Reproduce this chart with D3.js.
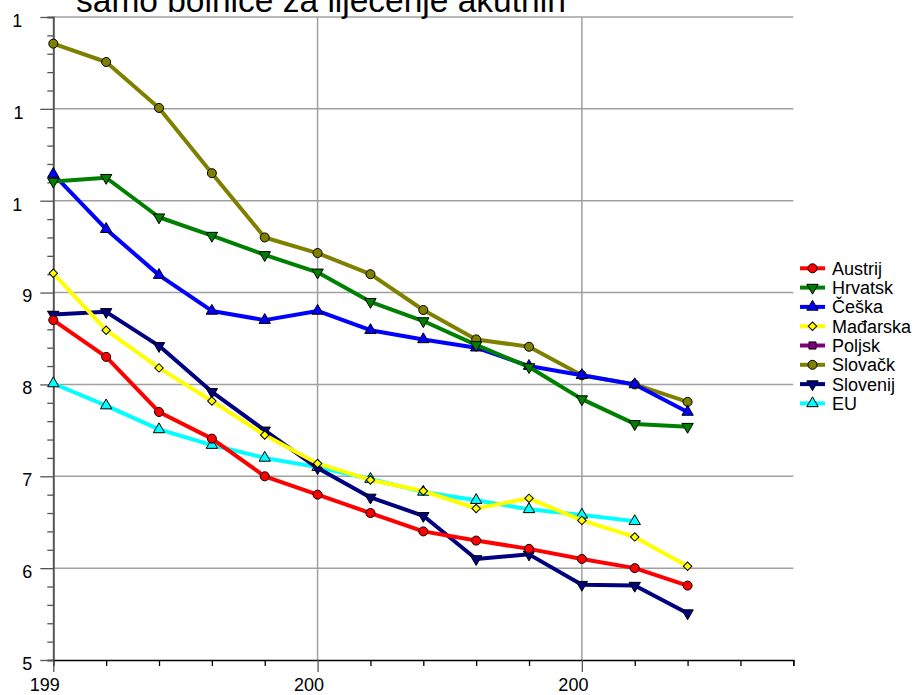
<!DOCTYPE html>
<meta charset="utf-8">
<script src="https://d3js.org/d3.v7.js"></script>
<style>
  body { margin: 0; background: #fff; }
  text { font-family: "Liberation Sans", Arial, sans-serif; }
</style>
<div id="chart"></div>
<script>
// data
const years = [1995, 1996, 1997, 1998, 1999, 2000, 2001, 2002, 2003, 2004, 2005, 2006, 2007];
const austrija  = [8.70, 8.30, 7.70, 7.41, 7.00, 6.80, 6.60, 6.40, 6.30, 6.21, 6.10, 6.00, 5.81];
const hrvatska  = [10.21, 10.25, 9.82, 9.62, 9.41, 9.22, 8.90, 8.69, 8.43, 8.19, 7.84, 7.57, 7.54];
const ceska     = [10.29, 9.69, 9.19, 8.80, 8.70, 8.80, 8.59, 8.49, 8.40, 8.20, 8.10, 8.00, 7.70];
const madarska  = [9.21, 8.59, 8.18, 7.82, 7.45, 7.14, 6.96, 6.84, 6.65, 6.76, 6.52, 6.34, 6.02];
const poljska   = [null, null, null, null, null, null, null, null, null, null, null, null, null];
const slovacka  = [11.71, 11.51, 11.01, 10.30, 9.60, 9.43, 9.20, 8.81, 8.49, 8.41, 8.10, 8.00, 7.81];
const slovenija = [8.76, 8.79, 8.42, 7.92, 7.50, 7.09, 6.77, 6.57, 6.10, 6.15, 5.82, 5.81, 5.51];
const eu        = [8.01, 7.77, 7.51, 7.34, 7.20, 7.10, 6.97, 6.83, 6.74, 6.64, 6.58, 6.51, null];

const seriesNames = ["Austrij", "Hrvatsk", "Češka", "Mađarska", "Poljsk", "Slovačk", "Slovenij", "EU"];
const seriesValues = [austrija, hrvatska, ceska, madarska, poljska, slovacka, slovenija, eu];

const yTicks = [5, 6, 7, 8, 9, 10, 11, 12];
const yTickLabels = ["5", "6", "7", "8", "9", "1", "1", "1"];
const xTicks = [1995, 2000, 2005];
const xTickLabels = ["199", "200", "200"];
const title = "samo bolnice za liječenje akutnih";

// styles
const colors = ["#ff0000", "#008000", "#0000ff", "#ffff00", "#800080", "#808000", "#000080", "#00ffff"];
const symbols = ["circle", "down", "up", "diamond", "square", "circle", "down", "up"];

const W = 915, H = 695;
const pLeft = 53.3, pRight = 793.3, pTop = 17, pBottom = 660;

const svg = d3.select("#chart").append("svg")
  .attr("width", W).attr("height", H);

const x = d3.scaleLinear().domain([1995, 2009]).range([pLeft, pRight]);
const y = d3.scaleLinear().domain([5, 12]).range([pBottom, pTop]);

// width of a label string at 18px, used to place the truncated labels
const probe = svg.append("text").style("font-size", "18px");
function textWidth(s) { probe.text(s); return probe.node().getComputedTextLength(); }

// horizontal gridlines
svg.append("g").selectAll("line")
  .data(yTicks.slice(1))
  .join("line")
    .attr("x1", pLeft).attr("x2", pRight)
    .attr("y1", d => y(d)).attr("y2", d => y(d))
    .attr("stroke", "#a0a0a0").attr("stroke-width", 1.5);

// vertical gridlines
svg.append("g").selectAll("line")
  .data(xTicks.slice(1))
  .join("line")
    .attr("x1", d => x(d)).attr("x2", d => x(d))
    .attr("y1", pTop).attr("y2", pBottom)
    .attr("stroke", "#a0a0a0").attr("stroke-width", 1.5);

// y axis
const yAxis = d3.axisLeft(y)
  .tickValues(d3.range(5, 12.001, 0.2))
  .tickSize(6)
  .tickFormat("");
const gy = svg.append("g").attr("transform", `translate(${pLeft},0)`).call(yAxis);
gy.select(".domain").attr("stroke", "#555").attr("stroke-width", 2);
gy.selectAll(".tick line").attr("stroke", "#555").attr("stroke-width", 1.3);
const yMajor = gy.selectAll(".tick").filter(d => Math.abs(d - Math.round(d)) < 1e-6);
yMajor.select("line").attr("x2", -13);
yMajor.append("text")
    .attr("x", d => -21 - textWidth(String(Math.round(d))))
    .attr("y", 3).attr("dy", "0.35em")
    .attr("fill", "#000")
    .style("font-size", "18px")
    .style("text-anchor", "start")
    .text(d => yTickLabels[yTicks.indexOf(Math.round(d))]);

// x axis
const xAxis = d3.axisBottom(x)
  .tickValues(d3.range(1995, 2010))
  .tickSize(6)
  .tickFormat("");
const gx = svg.append("g").attr("transform", `translate(0,${pBottom})`).call(xAxis);
gx.select(".domain").attr("stroke", "#000").attr("stroke-width", 1.5);
gx.selectAll(".tick line").attr("stroke", "#000").attr("stroke-width", 1.3);
const xMajor = gx.selectAll(".tick").filter(d => xTicks.includes(d));
xMajor.select("line").attr("y2", 12).attr("stroke", "#555");
xMajor.append("text")
    .attr("x", -24).attr("y", 31)
    .attr("fill", "#000")
    .style("font-size", "18px")
    .style("text-anchor", "start")
    .text(d => xTickLabels[xTicks.indexOf(d)]);
probe.remove();

// marker shape + extra rotation per symbol name
const shapes = {
  circle:  [d3.symbol(d3.symbolCircle, 64)(), 0],
  up:      [d3.symbol(d3.symbolTriangle, 56)(), 0],
  down:    [d3.symbol(d3.symbolTriangle, 56)(), 180],
  diamond: [d3.symbol(d3.symbolSquare, 36)(), 45],
  square:  [d3.symbol(d3.symbolSquare, 50)(), 0]
};

const line = d3.line()
  .defined(d => d.v != null)
  .x(d => x(d.t)).y(d => y(d.v));

// draw order
const order = [7, 6, 5, 4, 3, 2, 1, 0];
order.forEach(i => {
  const pts = years.map((t, k) => ({t: t, v: seriesValues[i][k]}));
  const [shape, rot] = shapes[symbols[i]];
  const g = svg.append("g");
  g.append("path")
    .datum(pts)
    .attr("d", line)
    .attr("fill", "none")
    .attr("stroke", colors[i])
    .attr("stroke-width", 4)
    .attr("stroke-linejoin", "round");
  g.selectAll("path.m")
    .data(pts.filter(d => d.v != null))
    .join("path")
      .attr("class", "m")
      .attr("d", shape)
      .attr("transform", d => `translate(${x(d.t)},${y(d.v)}) rotate(${rot})`)
      .attr("fill", colors[i])
      .attr("stroke", "#000")
      .attr("stroke-width", 1);
});

// title
svg.append("text")
  .attr("x", 76).attr("y", 12)
  .style("font-size", "33.5px")
  .attr("fill", "#000")
  .text(title);

// legend
const legend = svg.append("g");
seriesNames.forEach((name, i) => {
  const ly = 268.3 + i * 19.3;
  const [shape, rot] = shapes[symbols[i]];
  legend.append("line")
    .attr("x1", 800).attr("x2", 825)
    .attr("y1", ly).attr("y2", ly)
    .attr("stroke", colors[i]).attr("stroke-width", 4);
  legend.append("path")
    .attr("d", shape)
    .attr("transform", `translate(812.5,${ly}) rotate(${rot})`)
    .attr("fill", colors[i]).attr("stroke", "#000").attr("stroke-width", 1);
  legend.append("text")
    .attr("x", 832).attr("y", ly).attr("dy", "0.36em")
    .style("font-size", "18px")
    .attr("fill", "#000")
    .text(name);
});
</script>
